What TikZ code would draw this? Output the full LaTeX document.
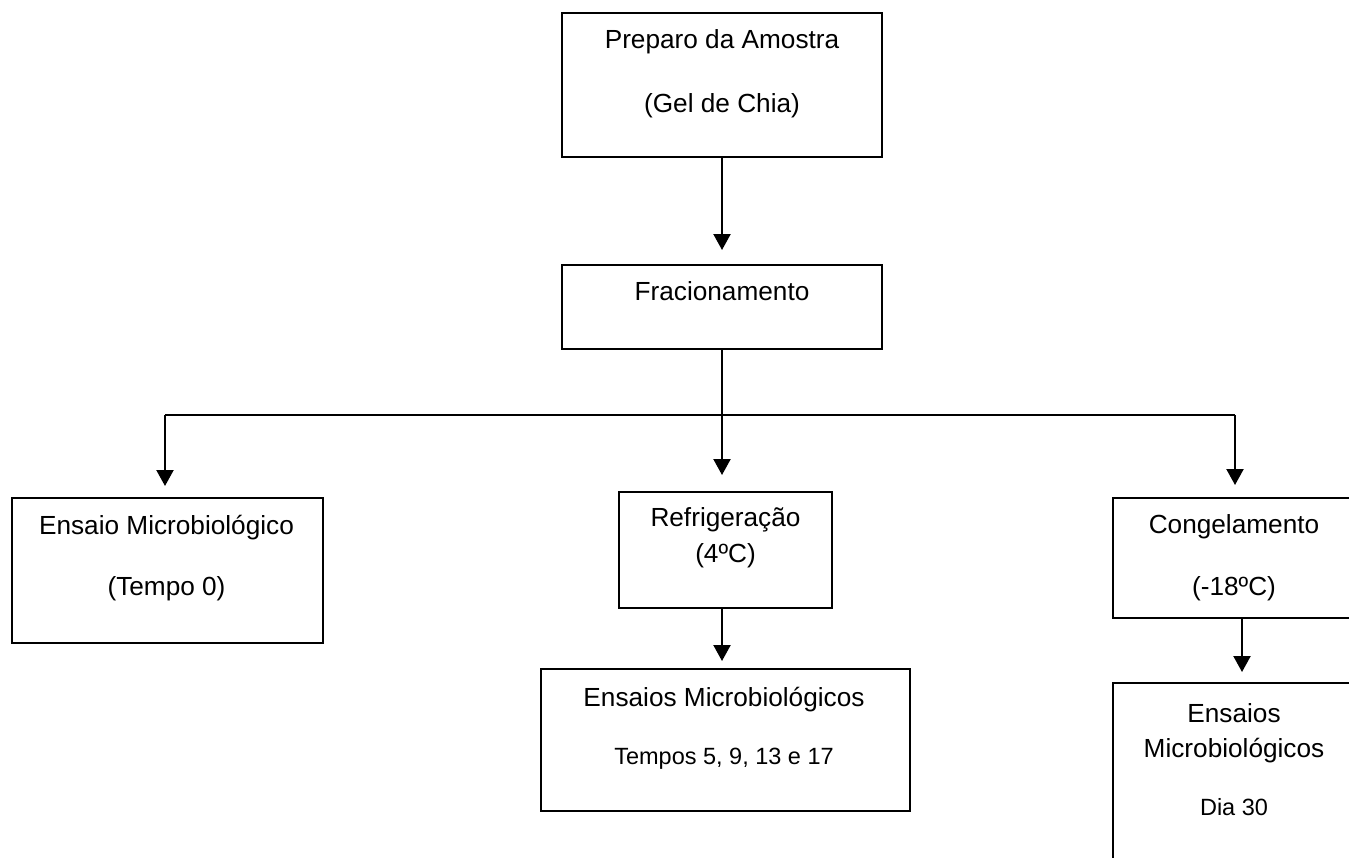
\documentclass[tikz,border=0pt]{standalone}
\usepackage{fontspec}
\setmainfont{Liberation Sans}
\usetikzlibrary{arrows.meta}
\begin{document}
\begin{tikzpicture}[x=1pt,y=-1pt,
  box/.style={draw=black,line width=2pt,minimum width=#1,inner sep=0pt,outer sep=0pt},
  txt/.style={anchor=base,inner sep=0pt,font=\fontsize{26.2}{31}\selectfont},
  smalltxt/.style={anchor=base,inner sep=0pt,font=\fontsize{23.5}{28}\selectfont},
  arr/.style={line width=2.2pt,-{Triangle[width=17pt,length=16pt]}},
  conn/.style={line width=2pt}]
\useasboundingbox (0,0) rectangle (1349,857);
\clip (0,0) rectangle (1349,857);
\fill[white] (0,0) rectangle (1349,857);

% boxes
\node[box=320pt,minimum height=144pt] (A) at (722,85) {};
\node[box=320pt,minimum height=84pt] (B) at (722,307) {};
\node[box=311pt,minimum height=145pt] (C) at (167.5,570.5) {};
\node[box=213pt,minimum height=116pt] (D) at (725.5,550) {};
\node[box=246pt,minimum height=120pt] (E) at (1236,558) {};
\node[box=369pt,minimum height=142pt] (F) at (725.5,740) {};
\node[box=246pt,minimum height=197pt] (G) at (1236,781.5) {};

% texts
\node[txt] (tA1) at (722,48) {Preparo da Amostra};
\node[txt] (tA2) at (722,112) {(Gel de Chia)};
\node[txt] (tB) at (722,300) {Fracionamento};
\node[txt] (tC1) at (166.5,534) {Ensaio Microbiológico};
\node[txt] (tC2) at (166.5,595) {(Tempo 0)};
\node[txt] (tD1) at (725.5,526) {Refrigeração};
\node[txt] (tD2) at (725.5,562) {(4ºC)};
\node[txt] (tE1) at (1234,533) {Congelamento};
\node[txt] (tE2) at (1234,595) {(-18ºC)};
\node[txt] (tF1) at (724,706) {Ensaios Microbiológicos};
\node[smalltxt] (tF2) at (724,764) {Tempos 5, 9, 13 e 17};
\node[txt] (tG1) at (1234,722) {Ensaios};
\node[txt] (tG2) at (1234,757) {Microbiológicos};
\node[smalltxt] (tG3) at (1234,815) {Dia 30};

% connectors
\coordinate (jl) at (165,415);
\coordinate (jr) at (1235,415);
\coordinate (ex) at (1242,620);
\draw[arr,shorten >=15pt] (A.south) -- (B.north);
\draw[arr,shorten >=17pt] (B.south) -- (B.south |- D.north);
\draw[conn] (jl) -- (jr);
\draw[arr,shorten >=12pt] (jl) -- (jl |- C.north);
\draw[arr,shorten >=13pt] (jr) -- (jr |- E.north);
\draw[arr,shorten >=8pt] (D.south -| B.south) -- (B.south |- F.north);
\draw[arr,shorten >=11pt] (E.south -| ex) -- (G.north -| ex);
\end{tikzpicture}
\end{document}
